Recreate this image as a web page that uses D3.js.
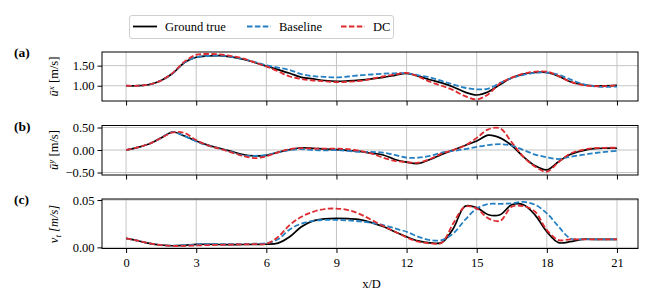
<!DOCTYPE html>
<html>
<head>
<meta charset="utf-8">
<script src="https://cdn.jsdelivr.net/npm/d3@7"></script>
<style>
  body { margin: 0; background: #fff; }
</style>
</head>
<body>
<div id="chart"></div>
<script>
// x/D sample positions
const xPos = [0, 0.5, 1, 1.5, 2, 2.5, 3, 3.5, 4, 4.5, 5, 5.5, 6, 6.5, 7, 7.5, 8, 8.5, 9, 9.5, 10,
  10.5, 11, 11.5, 12, 12.5, 13, 13.5, 14, 14.5, 15, 15.5, 16, 16.5, 17, 17.5, 18, 18.5, 19, 19.5, 20, 20.5, 21];

// (a) mean streamwise velocity
const uxTrue = [1.00, 1.00, 1.03, 1.13, 1.31, 1.58, 1.71, 1.74, 1.75, 1.72, 1.66, 1.58, 1.49, 1.40, 1.31, 1.21, 1.17, 1.13, 1.11, 1.12, 1.14,
  1.17, 1.21, 1.26, 1.31, 1.24, 1.15, 1.07, 0.97, 0.84, 0.77, 0.85, 1.03, 1.20, 1.29, 1.33, 1.33, 1.24, 1.10, 1.03, 1.00, 1.00, 1.01];
const uxBase = [1.00, 1.00, 1.03, 1.13, 1.31, 1.58, 1.71, 1.74, 1.75, 1.72, 1.67, 1.59, 1.51, 1.45, 1.39, 1.29, 1.24, 1.22, 1.21, 1.23, 1.26,
  1.28, 1.30, 1.31, 1.31, 1.26, 1.21, 1.12, 1.03, 0.95, 0.91, 0.93, 1.07, 1.19, 1.27, 1.32, 1.33, 1.27, 1.16, 1.05, 0.99, 0.97, 0.98];
const uxDC = [1.00, 1.00, 1.03, 1.13, 1.32, 1.60, 1.77, 1.79, 1.78, 1.74, 1.68, 1.58, 1.48, 1.36, 1.23, 1.17, 1.13, 1.11, 1.09, 1.10, 1.12,
  1.17, 1.23, 1.28, 1.32, 1.23, 1.10, 1.00, 0.89, 0.74, 0.66, 0.79, 1.06, 1.20, 1.30, 1.35, 1.35, 1.24, 1.10, 1.02, 0.99, 0.99, 1.01];

// (b) mean transverse velocity
const uyTrue = [0.00, 0.06, 0.14, 0.27, 0.40, 0.31, 0.20, 0.11, 0.04, -0.03, -0.10, -0.13, -0.12, -0.05, 0.01, 0.05, 0.04, 0.02, 0.01, -0.01, -0.03,
  -0.07, -0.11, -0.21, -0.27, -0.30, -0.21, -0.10, 0.00, 0.10, 0.20, 0.33, 0.27, 0.10, -0.15, -0.35, -0.44, -0.26, -0.10, -0.02, 0.03, 0.04, 0.04];
const uyBase = [0.00, 0.06, 0.14, 0.27, 0.40, 0.31, 0.19, 0.10, 0.03, -0.04, -0.12, -0.13, -0.11, -0.05, 0.00, 0.02, 0.00, -0.01, 0.00, -0.02, -0.04,
  -0.04, -0.06, -0.11, -0.17, -0.17, -0.13, -0.06, -0.02, 0.02, 0.07, 0.11, 0.13, 0.10, 0.00, -0.10, -0.16, -0.20, -0.15, -0.11, -0.07, -0.04, -0.02];
const uyDC = [0.00, 0.06, 0.14, 0.27, 0.39, 0.38, 0.22, 0.10, 0.03, -0.05, -0.13, -0.18, -0.14, -0.05, 0.02, 0.04, 0.03, 0.03, 0.03, 0.02, -0.02,
  -0.08, -0.17, -0.24, -0.27, -0.28, -0.20, -0.08, 0.00, 0.10, 0.27, 0.46, 0.48, 0.17, -0.15, -0.37, -0.48, -0.27, -0.08, 0.00, 0.04, 0.05, 0.05];

// (c) eddy viscosity
const nuTrue = [0.0095, 0.0070, 0.0042, 0.0025, 0.0017, 0.0022, 0.0031, 0.0033, 0.0030, 0.0029, 0.0030, 0.0031, 0.0033, 0.0045, 0.0112, 0.0218, 0.0280, 0.0302, 0.0307, 0.0303, 0.0293,
  0.0262, 0.0220, 0.0165, 0.0112, 0.0068, 0.0048, 0.0050, 0.0200, 0.0435, 0.0420, 0.0345, 0.0345, 0.0450, 0.0450, 0.0340, 0.0165, 0.0050, 0.0060, 0.0085, 0.0085, 0.0085, 0.0085];
const nuBase = [0.0095, 0.0070, 0.0042, 0.0025, 0.0017, 0.0022, 0.0031, 0.0034, 0.0033, 0.0033, 0.0035, 0.0038, 0.0045, 0.0085, 0.0190, 0.0250, 0.0280, 0.0290, 0.0290, 0.0285, 0.0275,
  0.0258, 0.0236, 0.0200, 0.0165, 0.0112, 0.0077, 0.0077, 0.0148, 0.0290, 0.0410, 0.0458, 0.0460, 0.0465, 0.0480, 0.0450, 0.0360, 0.0220, 0.0095, 0.0085, 0.0085, 0.0085, 0.0085];
const nuDC = [0.0095, 0.0070, 0.0042, 0.0024, 0.0015, 0.0016, 0.0020, 0.0024, 0.0027, 0.0030, 0.0032, 0.0034, 0.0038, 0.0110, 0.0236, 0.0323, 0.0376, 0.0405, 0.0410, 0.0394, 0.0352,
  0.0290, 0.0225, 0.0165, 0.0106, 0.0060, 0.0042, 0.0049, 0.0254, 0.0430, 0.0410, 0.0306, 0.0280, 0.0430, 0.0435, 0.0376, 0.0183, 0.0077, 0.0085, 0.0085, 0.0085, 0.0085, 0.0085];

const xTicks = [0, 3, 6, 9, 12, 15, 18, 21];
const seriesNames = ["Ground true", "Baseline", "DC"];
const seriesColors = ["#000000", "#2580c3", "#de2b2f"];

const FONT = "Liberation Serif";
const W = 653, H = 305;
const svg = d3.select("#chart").append("svg").attr("width", W).attr("height", H)
  .attr("font-family", FONT);

const x = d3.scaleLinear().domain([-1.03, 21.9]).range([102, 638]);

const panels = [
  { tag: "(a)", top: 52, bottom: 101, domain: [0.62, 1.84], ticks: [1.0, 1.5], fmt: ".2f", data: [uxTrue, uxBase, uxDC] },
  { tag: "(b)", top: 125.5, bottom: 175, domain: [-0.555, 0.545], ticks: [-0.5, 0, 0.5], fmt: ".2f", data: [uyTrue, uyBase, uyDC] },
  { tag: "(c)", top: 199, bottom: 248.5, domain: [-0.0012, 0.0511], ticks: [0, 0.05], fmt: ".2f", data: [nuTrue, nuBase, nuDC] }
];

panels.forEach(function(p, pi) {
  const y = d3.scaleLinear().domain(p.domain).range([p.bottom, p.top]);
  const g = svg.append("g");

  // grid
  g.selectAll(".vgrid").data(xTicks).enter().append("line")
    .attr("x1", d => x(d)).attr("x2", d => x(d))
    .attr("y1", p.top).attr("y2", p.bottom)
    .attr("stroke", "#c4c4c4").attr("stroke-width", 1);
  g.selectAll(".hgrid").data(p.ticks).enter().append("line")
    .attr("x1", x.range()[0]).attr("x2", x.range()[1])
    .attr("y1", d => y(d)).attr("y2", d => y(d))
    .attr("stroke", "#c4c4c4").attr("stroke-width", 1);

  // curves
  const line = d3.line()
    .x((d, i) => x(xPos[i]))
    .y(d => y(d))
    .curve(d3.curveCatmullRom.alpha(0.5));
  p.data.forEach(function(s, si) {
    g.append("path")
      .attr("d", line(s))
      .attr("fill", "none")
      .attr("stroke", seriesColors[si])
      .attr("stroke-width", si === 0 ? 1.7 : 1.8)
      .attr("stroke-dasharray", si === 0 ? null : "5.5,2.4");
  });

  // frame
  g.append("rect")
    .attr("x", x.range()[0]).attr("y", p.top)
    .attr("width", x.range()[1] - x.range()[0]).attr("height", p.bottom - p.top)
    .attr("fill", "none").attr("stroke", "#000").attr("stroke-width", 1);

  // axes
  const ya = g.append("g").attr("transform", "translate(" + x.range()[0] + ",0)")
    .call(d3.axisLeft(y).tickValues(p.ticks).tickFormat(d3.format(p.fmt)).tickSize(4.5).tickPadding(3));
  const xa = g.append("g").attr("transform", "translate(0," + p.bottom + ")")
    .call(d3.axisBottom(x).tickValues(xTicks).tickSize(4.5).tickPadding(5)
      .tickFormat(pi === 2 ? d3.format("d") : ""));
  [ya, xa].forEach(function(a) {
    a.attr("font-family", FONT).attr("font-size", 12.5);
    a.select(".domain").remove();
    a.selectAll("line").attr("stroke", "#000").attr("stroke-width", 1);
    a.selectAll("text").attr("fill", "#000");
  });

  // panel tag
  svg.append("text").attr("x", 14).attr("y", p.top + 5)
    .attr("font-size", 13.5).attr("font-weight", "bold").text(p.tag);
});

// y labels
function yLabel(cy, build) {
  const t = svg.append("text")
    .attr("transform", "translate(58," + cy + ") rotate(-90)")
    .attr("text-anchor", "middle")
    .attr("font-size", 12.5);
  build(t);
}
yLabel(76.5, function(t) {
  t.append("tspan").attr("font-style", "italic").text("ū");
  t.append("tspan").attr("font-style", "italic").attr("font-size", 9).attr("dy", -4).text("x");
  t.append("tspan").attr("dy", 4).text(" [m/s]");
});
yLabel(150, function(t) {
  t.append("tspan").attr("font-style", "italic").text("ū");
  t.append("tspan").attr("font-style", "italic").attr("font-size", 9).attr("dy", -4).text("y");
  t.append("tspan").attr("dy", 4).text(" [m/s]");
});
yLabel(224, function(t) {
  t.append("tspan").attr("font-style", "italic").text("ν");
  t.append("tspan").attr("font-style", "italic").attr("font-size", 9).attr("dy", 3).text("t");
  t.append("tspan").attr("dy", -3).attr("font-style", "italic").text(" [m/s]");
});

// x label
svg.append("text").attr("x", x(10.5)).attr("y", 288)
  .attr("text-anchor", "middle").attr("font-size", 12.5).text("x/D");

// legend
const leg = svg.append("g");
leg.append("rect").attr("x", 129.5).attr("y", 15.5).attr("width", 264).attr("height", 23)
  .attr("rx", 2.5).attr("fill", "#fff").attr("stroke", "#d0d0d0").attr("stroke-width", 1);
const legX = [133, 247, 341];
seriesNames.forEach(function(n, i) {
  leg.append("line")
    .attr("x1", legX[i]).attr("x2", legX[i] + 24)
    .attr("y1", 26.5).attr("y2", 26.5)
    .attr("stroke", seriesColors[i]).attr("stroke-width", 1.8)
    .attr("stroke-dasharray", i === 0 ? null : "5.5,2.4");
  leg.append("text").attr("x", legX[i] + 32).attr("y", 31)
    .attr("font-size", 12.5).text(n);
});
</script>
</body>
</html>
